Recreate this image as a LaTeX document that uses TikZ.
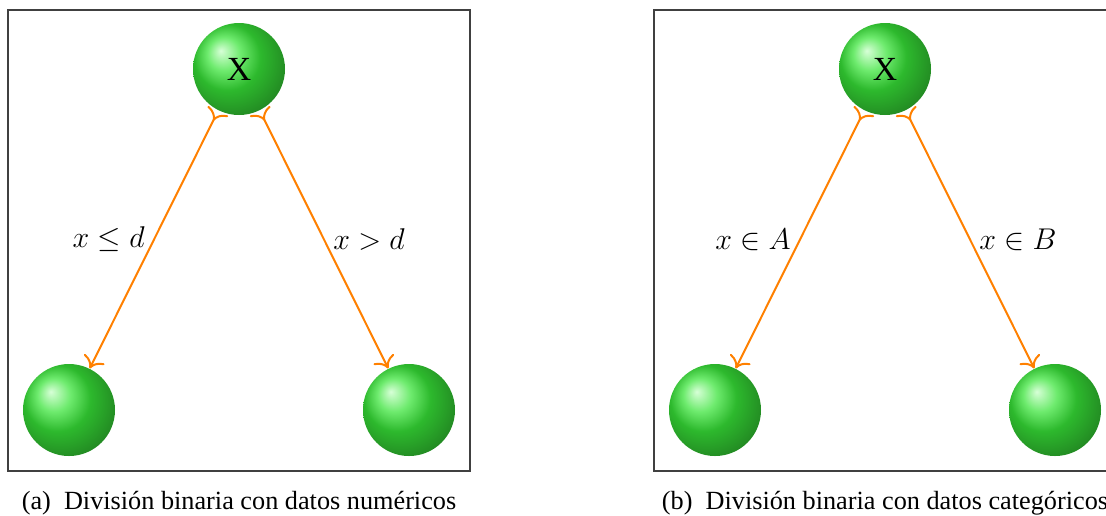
\documentclass[tikz,border=0pt]{standalone}
\usepackage{fontspec}
\newfontfamily\capfont{Liberation Serif}
\usepackage{amsmath,amssymb}
\usepackage{tikz}
\usetikzlibrary{arrows.meta}

\definecolor{verdeA}{RGB}{215,255,215}
\definecolor{verdeB}{RGB}{110,235,110}
\definecolor{verdeC}{RGB}{45,185,45}
\definecolor{verdeD}{RGB}{35,140,35}
\definecolor{verdeE}{RGB}{20,95,20}
\pgfdeclareradialshading{bolaverde}{\pgfpoint{-10bp}{10bp}}{%
  color(0bp)=(verdeA); color(9bp)=(verdeB); color(18bp)=(verdeC);
  color(30bp)=(verdeD); color(50bp)=(verdeE)}

\begin{document}
\begin{tikzpicture}[x=0.4pt, y=-0.4pt, >={To[scale=1.3]},
  bola/.style={circle, shading=bolaverde, minimum size=36.8pt, inner sep=0pt,
    font=\capfont\fontsize{13.5}{15}\selectfont},
  rama/.style={>->, orange, line width=0.8pt},
  etiq/.style={text=black, font=\fontsize{13.2}{16}\selectfont},
  marco/.style={draw=black!75, line width=0.6pt},
  leyenda/.style={anchor=base, font=\capfont\fontsize{10.5}{12}\selectfont}]
\useasboundingbox (0,0) rectangle (1106,515);
\clip (0,0) rectangle (1106,515);

% Numeric split
\draw[marco] (8,10) rectangle (470,471);
\node[bola] (raizA) at (239,69) {X};
\node[bola] (izqA) at (69,410) {};
\node[bola] (derA) at (409,410) {};
\draw[rama] (raizA) -- node[etiq, midway, left] {$x \leq d$} (izqA);
\draw[rama] (raizA) -- node[etiq, midway, right] {$x > d$} (derA);
\node[leyenda] (leyA) at (239,509) {(a)\enspace División binaria con datos numéricos};

% Categorical split
\draw[marco] (654,10) rectangle (1116,471);
\node[bola] (raizB) at (885,69) {X};
\node[bola] (izqB) at (715,410) {};
\node[bola] (derB) at (1055,410) {};
\draw[rama] (raizB) -- node[etiq, midway, left] {$x \in A$} (izqB);
\draw[rama] (raizB) -- node[etiq, midway, right] {$x \in B$} (derB);
\node[leyenda] (leyB) at (885,509) {(b)\enspace División binaria con datos categóricos};
\end{tikzpicture}
\end{document}
